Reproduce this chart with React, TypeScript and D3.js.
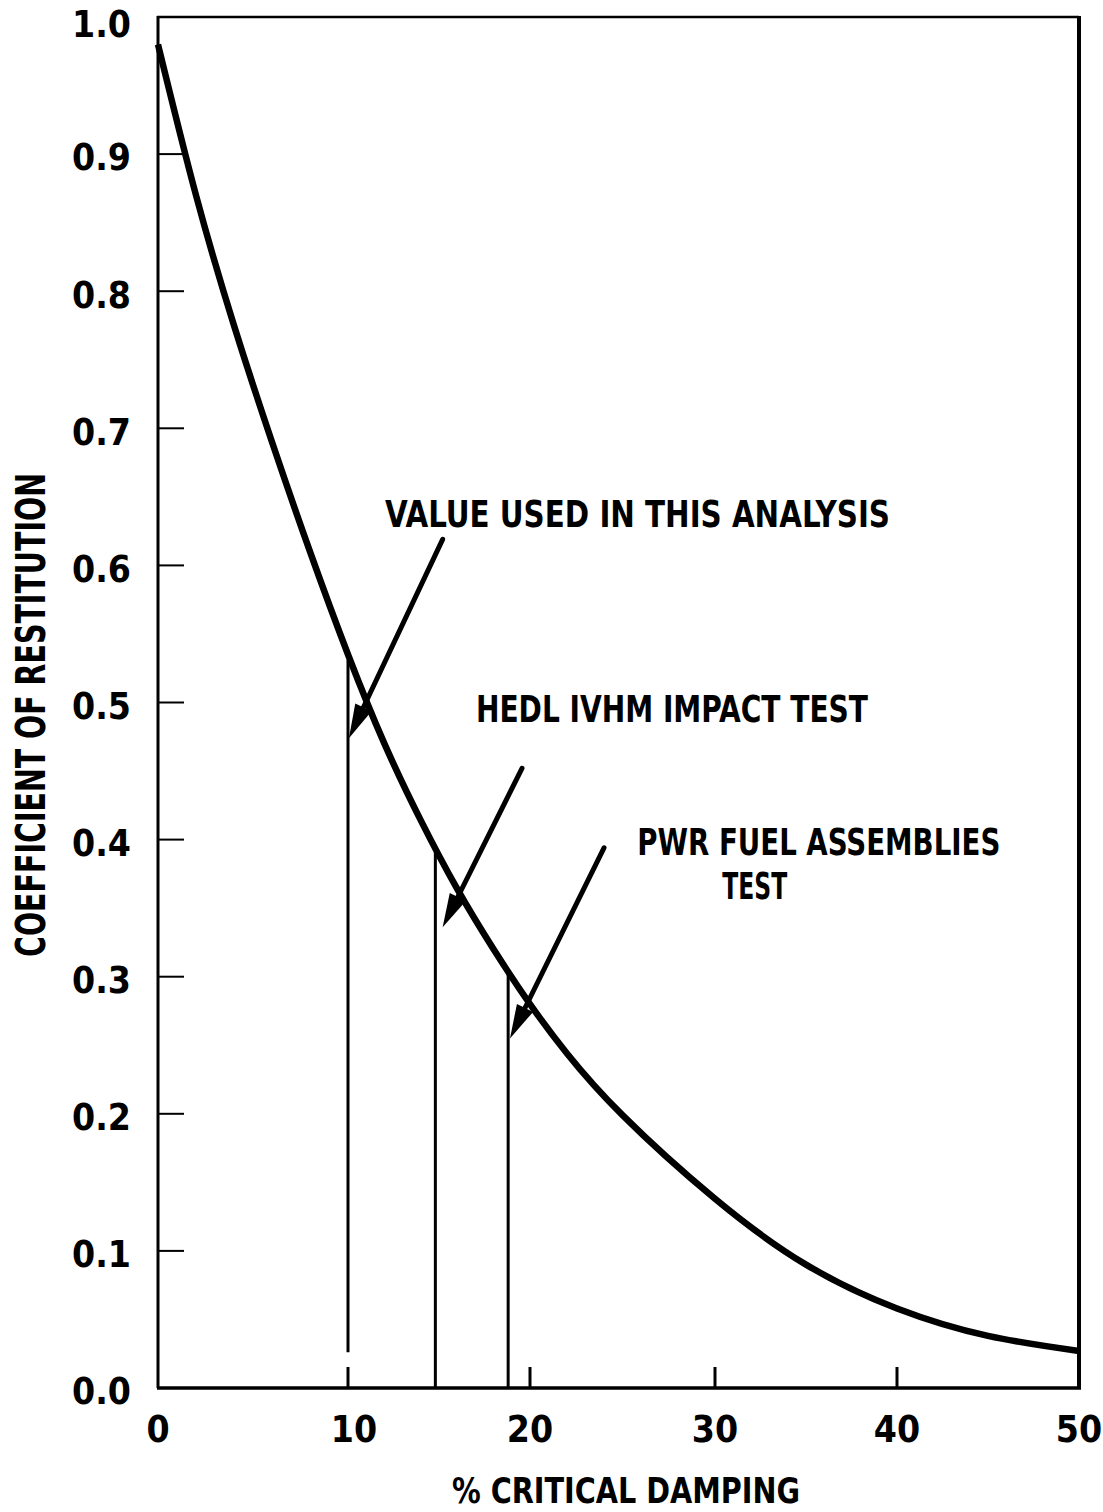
import React from 'react';
import * as d3 from 'd3';

const width = 1103;
const height = 1512;

// curve
const damping = [0, 2, 4, 6, 8, 10, 12, 14, 16, 18, 20, 22, 25, 30, 35, 40, 45, 50];
const restitution = [0.98, 0.87, 0.775, 0.69, 0.61, 0.535, 0.47, 0.414, 0.364, 0.32, 0.28, 0.244, 0.199, 0.138, 0.09, 0.058, 0.038, 0.027];

const xTicks = [0, 10, 20, 30, 40, 50];
const yTicks = [0, 0.1, 0.2, 0.3, 0.4, 0.5, 0.6, 0.7, 0.8, 0.9, 1.0];

// vertical markers: x, top value, bottom value
const markerX = [10, 14.8, 18.8];
const markerTop = [0.531, 0.391, 0.302];
const markerBottom = [0.026, 0, 0];

// arrows: start -> tip
const arrowFromX = [15.2, 19.56, 24.0];
const arrowFromY = [0.619, 0.452, 0.394];
const arrowToX = [10.05, 15.2, 18.9];
const arrowToY = [0.474, 0.336, 0.255];

const notes = ['VALUE USED IN THIS ANALYSIS', 'HEDL IVHM IMPACT TEST', 'PWR FUEL ASSEMBLIES', 'TEST'];
const noteX = [12.03, 17.03, 25.8, 30.4];
const noteY = [0.628, 0.486, 0.389, 0.357];
const noteLen = [505, 392, 363, 65];

// the hand drawn axis isn't quite even, so use a polylinear scale
const xScale = d3.scaleLinear().domain(xTicks).range([158, 348, 530, 715, 897, 1079]);
const yScale = d3.scaleLinear().domain([0, 1]).range([1388, 17]);

const font = "'DejaVu Sans Condensed', 'Liberation Sans Narrow', 'DejaVu Sans', sans-serif";

function Arrow({ x1, y1, x2, y2 }: { x1: number; y1: number; x2: number; y2: number }) {
  const ax = xScale(x1), ay = yScale(y1), bx = xScale(x2), by = yScale(y2);
  const len = Math.hypot(bx - ax, by - ay);
  const ux = (bx - ax) / len, uy = (by - ay) / len;
  const L = 34, W = 9;
  const cx = bx - ux * L, cy = by - uy * L;
  const head = `M${bx},${by}L${cx - uy * W},${cy + ux * W}L${cx + uy * W},${cy - ux * W}Z`;
  return (
    <g>
      <line x1={ax} y1={ay} x2={cx + ux * 4} y2={cy + uy * 4} stroke="#000" strokeWidth={5} strokeLinecap="round" />
      <path d={head} fill="#000" />
    </g>
  );
}

export default function App() {
  const line = d3.line<number>()
    .x((d, i) => xScale(damping[i]))
    .y(d => yScale(d))
    .curve(d3.curveNatural);

  return (
    <svg width={width} height={height} style={{ position: 'absolute', left: 0, top: 0, background: '#fff' }}>
      {/* frame */}
      <line x1={157} y1={yScale(1)} x2={xScale(50)} y2={yScale(1)} stroke="#000" strokeWidth={2.5} />
      <line x1={xScale(0)} y1={yScale(1) - 1} x2={xScale(0)} y2={yScale(0)} stroke="#000" strokeWidth={3} />
      <line x1={xScale(0) - 1} y1={yScale(0)} x2={xScale(50) + 2} y2={yScale(0)} stroke="#000" strokeWidth={3.5} />
      <line x1={xScale(50)} y1={yScale(1) - 1} x2={xScale(50)} y2={yScale(0)} stroke="#000" strokeWidth={4} />

      {/* y ticks */}
      {yTicks.filter(t => t > 0 && t < 1).map(t => (
        <line key={t} x1={xScale(0)} x2={xScale(0) + 26} y1={yScale(t)} y2={yScale(t)} stroke="#000" strokeWidth={2} />
      ))}
      {yTicks.map(t => (
        <text key={t} x={131} y={yScale(t) + (t === 1 ? 7 : 3)} dy="0.36em" textAnchor="end" fontFamily={font} fontWeight="bold"
          fontSize={37} fontStretch="condensed">{t.toFixed(1)}</text>
      ))}

      {/* x ticks */}
      {xTicks.filter(t => t > 0 && t < 50).map(t => (
        <line key={t} x1={xScale(t)} x2={xScale(t)} y1={yScale(0)} y2={yScale(0) - 21} stroke="#000" strokeWidth={3} />
      ))}
      {xTicks.map(t => (
        <text key={t} x={xScale(t) + (t === 10 ? 6 : 0)} y={1442} textAnchor="middle" fontFamily={font} fontWeight="bold"
          fontSize={37} fontStretch="condensed">{t}</text>
      ))}

      {/* markers */}
      {markerX.map((m, i) => (
        <line key={i} x1={xScale(m)} x2={xScale(m)} y1={yScale(markerTop[i])} y2={yScale(markerBottom[i])} stroke="#000" strokeWidth={3} />
      ))}

      {/* curve */}
      <path d={line(restitution) || ''} fill="none" stroke="#000" strokeWidth={6.5} />

      {/* arrows */}
      {arrowFromX.map((a, i) => (
        <Arrow key={i} x1={a} y1={arrowFromY[i]} x2={arrowToX[i]} y2={arrowToY[i]} />
      ))}

      {/* notes */}
      {notes.map((n, i) => (
        <text key={i} x={xScale(noteX[i])} y={yScale(noteY[i])} fontFamily={font} fontWeight="bold" fontSize={38}
          textLength={noteLen[i]} lengthAdjust="spacingAndGlyphs">{n}</text>
      ))}

      {/* axis titles */}
      <text x={452} y={1503} fontFamily={font} fontWeight="bold" fontSize={36} textLength={348}
        lengthAdjust="spacingAndGlyphs">% CRITICAL DAMPING</text>
      <text transform="translate(45,957) rotate(-90)" x={0} y={0} fontFamily={font} fontWeight="bold" fontSize={41}
        textLength={484} lengthAdjust="spacingAndGlyphs">COEFFICIENT OF RESTITUTION</text>
    </svg>
  );
}
